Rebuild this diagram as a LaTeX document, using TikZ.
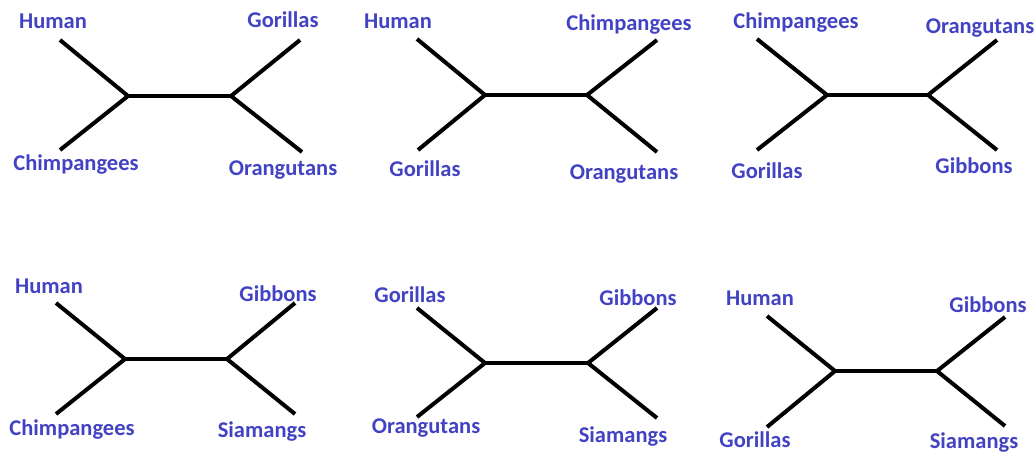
\documentclass[tikz,border=0pt]{standalone}
\usepackage{fontspec}
\setmainfont{Carlito}
\definecolor{taxonblue}{RGB}{66,66,196}
\tikzstyle{taxon} = [font=\bfseries\fontsize{22.5}{22.5}\selectfont, text=taxonblue, inner sep=0pt]
\tikzstyle{branch} = [line width=4pt, black]
\tikzstyle{stem} = [line width=4.6pt, black]

\begin{document}
\begin{tikzpicture}[x=1pt, y=-1pt]
        \useasboundingbox (0,0) rectangle (1035,453);

        % tree 1
        \coordinate (a1) at (60,40);
        \coordinate (b1) at (60,150);
        \coordinate (c1) at (300,40);
        \coordinate (d1) at (302,152);
        \coordinate (l1) at (128,96);
        \coordinate (r1) at (231,96);
        \node (ta1) [taxon] at (53,21) {Human};
        \node (tb1) [taxon] at (76,165) {Chimpangees};
        \node (tc1) [taxon] at (283,20) {Gorillas};
        \node (td1) [taxon] at (283,170) {Orangutans};
        \draw [branch] (a1) -- (l1) -- (b1);
        \draw [branch] (c1) -- (r1) -- (d1);
        \draw [stem] (l1) -- (r1);

        % tree 2
        \coordinate (a2) at (417,39);
        \coordinate (b2) at (418,150);
        \coordinate (c2) at (657,40);
        \coordinate (d2) at (657,152);
        \coordinate (l2) at (485,95);
        \coordinate (r2) at (587,95);
        \node (ta2) [taxon] at (398,21) {Human};
        \node (tb2) [taxon] at (425,169) {Gorillas};
        \node (tc2) [taxon] at (629,25) {Chimpangees};
        \node (td2) [taxon] at (624,174) {Orangutans};
        \draw [branch] (a2) -- (l2) -- (b2);
        \draw [branch] (c2) -- (r2) -- (d2);
        \draw [stem] (l2) -- (r2);

        % tree 3
        \coordinate (a3) at (757,39);
        \coordinate (b3) at (757,150);
        \coordinate (c3) at (997,40);
        \coordinate (d3) at (997,150);
        \coordinate (l3) at (827,95);
        \coordinate (r3) at (928,95);
        \node (ta3) [taxon] at (796,23) {Chimpangees};
        \node (tb3) [taxon] at (767,171) {Gorillas};
        \node (tc3) [taxon] at (980,28) {Orangutans};
        \node (td3) [taxon] at (974,166) {Gibbons};
        \draw [branch] (a3) -- (l3) -- (b3);
        \draw [branch] (c3) -- (r3) -- (d3);
        \draw [stem] (l3) -- (r3);

        % tree 4
        \coordinate (a4) at (56,303);
        \coordinate (b4) at (56,414);
        \coordinate (c4) at (295,303);
        \coordinate (d4) at (295,414);
        \coordinate (l4) at (125,359);
        \coordinate (r4) at (227,359);
        \node (ta4) [taxon] at (49,286) {Human};
        \node (tb4) [taxon] at (72,430) {Chimpangees};
        \node (tc4) [taxon] at (278,294) {Gibbons};
        \node (td4) [taxon] at (262,432) {Siamangs};
        \draw [branch] (a4) -- (l4) -- (b4);
        \draw [branch] (c4) -- (r4) -- (d4);
        \draw [stem] (l4) -- (r4);

        % tree 5
        \coordinate (a5) at (417,308);
        \coordinate (b5) at (417,417);
        \coordinate (c5) at (657,308);
        \coordinate (d5) at (657,418);
        \coordinate (l5) at (485,363);
        \coordinate (r5) at (588,363);
        \node (ta5) [taxon] at (410,295) {Gorillas};
        \node (tb5) [taxon] at (426,428) {Orangutans};
        \node (tc5) [taxon] at (638,298) {Gibbons};
        \node (td5) [taxon] at (623,437) {Siamangs};
        \draw [branch] (a5) -- (l5) -- (b5);
        \draw [branch] (c5) -- (r5) -- (d5);
        \draw [stem] (l5) -- (r5);

        % tree 6
        \coordinate (a6) at (767,316);
        \coordinate (b6) at (767,427);
        \coordinate (c6) at (1005,317);
        \coordinate (d6) at (1005,426);
        \coordinate (l6) at (835,371);
        \coordinate (r6) at (937,371);
        \node (ta6) [taxon] at (760,298) {Human};
        \node (tb6) [taxon] at (755,440) {Gorillas};
        \node (tc6) [taxon] at (988,305) {Gibbons};
        \node (td6) [taxon] at (974,443) {Siamangs};
        \draw [branch] (a6) -- (l6) -- (b6);
        \draw [branch] (c6) -- (r6) -- (d6);
        \draw [stem] (l6) -- (r6);
    \end{tikzpicture}
\end{document}
